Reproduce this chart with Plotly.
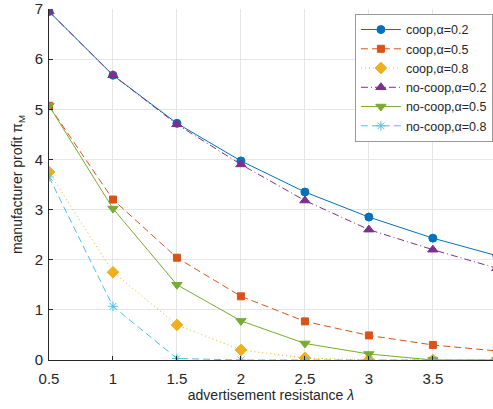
import plotly.graph_objects as go

lam = [0.5, 1, 1.5, 2, 2.5, 3, 3.5, 4]
coop_02 = [6.95, 5.68, 4.72, 3.97, 3.35, 2.85, 2.43, 2.08]
coop_05 = [5.07, 3.20, 2.04, 1.27, 0.77, 0.49, 0.30, 0.18]
coop_08 = [3.75, 1.75, 0.70, 0.20, 0.04, 0.0, 0.0, 0.0]
nocoop_02 = [6.95, 5.68, 4.70, 3.90, 3.18, 2.60, 2.20, 1.83]
nocoop_05 = [5.07, 3.02, 1.50, 0.78, 0.33, 0.12, 0.0, 0.0]
nocoop_08 = [3.65, 1.07, 0.03, 0.0, 0.0, 0.0, 0.0, 0.0]

series = [
    ("coop,α=0.2", coop_02, "#0072BD", "solid", "circle", 8),
    ("coop,α=0.5", coop_05, "#D95319", "7px,4px", "square", 7),
    ("coop,α=0.8", coop_08, "#EDB120", "1px,3px", "diamond", 9),
    ("no-coop,α=0.2", nocoop_02, "#7E2F8E", "7px,3px,1px,3px", "triangle-up", 9),
    ("no-coop,α=0.5", nocoop_05, "#77AC30", "solid", "triangle-down", 9),
    ("no-coop,α=0.8", nocoop_08, "#4DBEEE", "7px,4px", "asterisk-open", 8),
]

fig = go.Figure()
for name, y, c, dash, sym, sz in series:
    fig.add_trace(go.Scatter(
        x=lam, y=y, name=name, mode="lines+markers",
        line=dict(color=c, dash=dash, width=1),
        marker=dict(symbol=sym, size=sz, color=c, line=dict(color=c, width=1)),
        cliponaxis=True,
    ))

fig.update_layout(
    width=493, height=409,
    margin=dict(l=49, r=0, t=9, b=49),
    paper_bgcolor="white", plot_bgcolor="white",
    font=dict(family="Liberation Sans, Arial, sans-serif", size=13, color="#262626"),
    showlegend=True,
    legend=dict(
        x=0.689, y=0.986, xanchor="left", yanchor="top",
        bgcolor="white", bordercolor="#999999", borderwidth=1,
        font=dict(size=12.5, color="#262626"),
        tracegroupgap=0, itemwidth=40,
    ),
    xaxis=dict(
        range=[0.5, 3.97], dtick=0.5, tick0=0.5,
        showgrid=True, gridcolor="#e6e6e6", gridwidth=1,
        showline=True, linecolor="#262626", linewidth=1,
        ticks="inside", ticklen=4, tickcolor="#262626",
        zeroline=False, ticklabelstandoff=5,
        title=dict(text="advertisement resistance <i>λ</i>", font=dict(size=14), standoff=4),
        tickfont=dict(size=15),
    ),
    yaxis=dict(
        range=[0, 7], dtick=1,
        showgrid=True, gridcolor="#e6e6e6", gridwidth=1,
        showline=True, linecolor="#262626", linewidth=1,
        ticks="inside", ticklen=4, tickcolor="#262626",
        zeroline=False, ticklabelstandoff=2,
        title=dict(text="manufacturer profit π<sub>M</sub>", font=dict(size=14), standoff=8),
        tickfont=dict(size=15),
    ),
)

fig.write_html("out.html")
